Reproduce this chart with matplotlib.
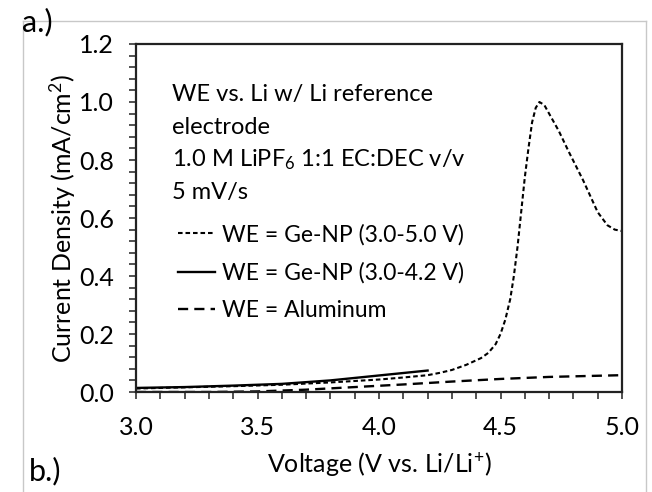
import matplotlib
matplotlib.use("Agg")
import matplotlib.pyplot as plt
from matplotlib.lines import Line2D
from matplotlib.ticker import MultipleLocator

plt.rcParams['font.family'] = ['Lato', 'DejaVu Sans']
plt.rcParams['mathtext.fontset'] = 'custom'
plt.rcParams['mathtext.rm'] = 'Lato'
plt.rcParams['mathtext.it'] = 'Lato'
plt.rcParams['mathtext.bf'] = 'Lato'

# Data
ge_full_v = [3.0, 3.2, 3.4, 3.6, 3.8, 4.0, 4.1, 4.2, 4.25, 4.30, 4.36, 4.42, 4.45,
             4.48, 4.50, 4.52, 4.54, 4.555, 4.57, 4.585, 4.60, 4.615, 4.63, 4.645,
             4.66, 4.68, 4.70, 4.74, 4.78, 4.84, 4.90, 4.94, 4.97, 5.0]
ge_full_j = [0.012, 0.016, 0.020, 0.025, 0.033, 0.043, 0.050, 0.058, 0.066, 0.076,
             0.094, 0.117, 0.135, 0.165, 0.20, 0.25, 0.32, 0.40, 0.50, 0.62, 0.74,
             0.84, 0.93, 0.98, 1.0, 0.99, 0.96, 0.90, 0.83, 0.73, 0.62, 0.575,
             0.56, 0.555]
ge_low_v = [3.0, 3.2, 3.4, 3.6, 3.8, 4.0, 4.2]
ge_low_j = [0.014, 0.017, 0.022, 0.028, 0.040, 0.057, 0.074]
al_v = [3.0, 3.3, 3.5, 3.7, 3.9, 4.1, 4.3, 4.5, 4.7, 4.9, 5.0]
al_j = [0.0, 0.0, 0.002, 0.008, 0.017, 0.026, 0.036, 0.045, 0.052, 0.056, 0.058]

labels = ["WE = Ge-NP (3.0-5.0 V)", "WE = Ge-NP (3.0-4.2 V)", "WE = Aluminum"]
notes = ["WE vs. Li w/ Li reference", "electrode",
         "1.0 M LiPF$_6$ 1:1 EC:DEC v/v", "5 mV/s"]
xlabel = "Voltage (V vs. Li/Li$^{+}$)"
ylabel = "Current Density (mA/cm$^{2}$)"

W, H = 652, 492
fig = plt.figure(figsize=(W / 100, H / 100), dpi=100)
ax = fig.add_axes([136 / W, 1 - 392 / H, (622 - 136) / W, (392 - 44) / H])

l1, = ax.plot(ge_full_v, ge_full_j, color='black', lw=1.5, linestyle=(0, (2.2, 1.4)))
l2, = ax.plot(ge_low_v, ge_low_j, color='black', lw=1.7, linestyle='-')
l3, = ax.plot(al_v, al_j, color='black', lw=1.7, linestyle=(0, (4.3, 2.6)))

ax.set_xlim(3.0, 5.0)
ax.set_ylim(0.0, 1.2)
ax.xaxis.set_major_locator(MultipleLocator(0.5))
ax.xaxis.set_minor_locator(MultipleLocator(0.1))
ax.yaxis.set_major_locator(MultipleLocator(0.2))
ax.yaxis.set_minor_locator(MultipleLocator(0.04))
ax.xaxis.set_major_formatter(plt.FormatStrFormatter('%.1f'))
ax.yaxis.set_major_formatter(plt.FormatStrFormatter('%.1f'))
ax.tick_params(which='both', direction='out', length=5, width=1.1, color='#222222')
ax.tick_params(axis='x', which='major', labelsize=18, pad=12)
ax.tick_params(axis='y', which='major', labelsize=18, pad=11)
for s in ax.spines.values():
    s.set_linewidth(1.6)
    s.set_color('#222222')

fig.text(379 / W, 1 - 465 / H, xlabel, fontsize=18, ha='center', va='center')
fig.text(63 / W, 1 - 218 / H, ylabel, fontsize=18, ha='center', va='center',
         rotation=90)

ys = [95, 127, 160, 192]
for t, y in zip(notes, ys):
    ax.text((172 - 136) / 486, (392 - y) / 348, t, transform=ax.transAxes,
            fontsize=17, ha='left', va='center')

leg = ax.legend([l1, l2, l3], labels, loc='upper left', frameon=False,
                bbox_to_anchor=((178 - 136) / 486, (392 - 224) / 348),
                fontsize=16.5, handlelength=1.6, handletextpad=0.3,
                labelspacing=0.72, borderaxespad=0, borderpad=0)

# outer frame
fx0, fy0, fx1 = 23 / W, 1 - 21 / H, 646 / W
fig.add_artist(Line2D([fx0, fx0], [0, fy0], transform=fig.transFigure, color='#c8c8c8', lw=1))
fig.add_artist(Line2D([fx0, fx1], [fy0, fy0], transform=fig.transFigure, color='#c8c8c8', lw=1))
fig.add_artist(Line2D([fx1, fx1], [0, fy0], transform=fig.transFigure, color='#c8c8c8', lw=1))

fig.text(22 / W, 1 - 22 / H, "a.)", fontsize=22, ha='left', va='center')
fig.text(29 / W, 1 - 471 / H, "b.)", fontsize=22, ha='left', va='center')

fig.savefig("out.png", dpi=100)
